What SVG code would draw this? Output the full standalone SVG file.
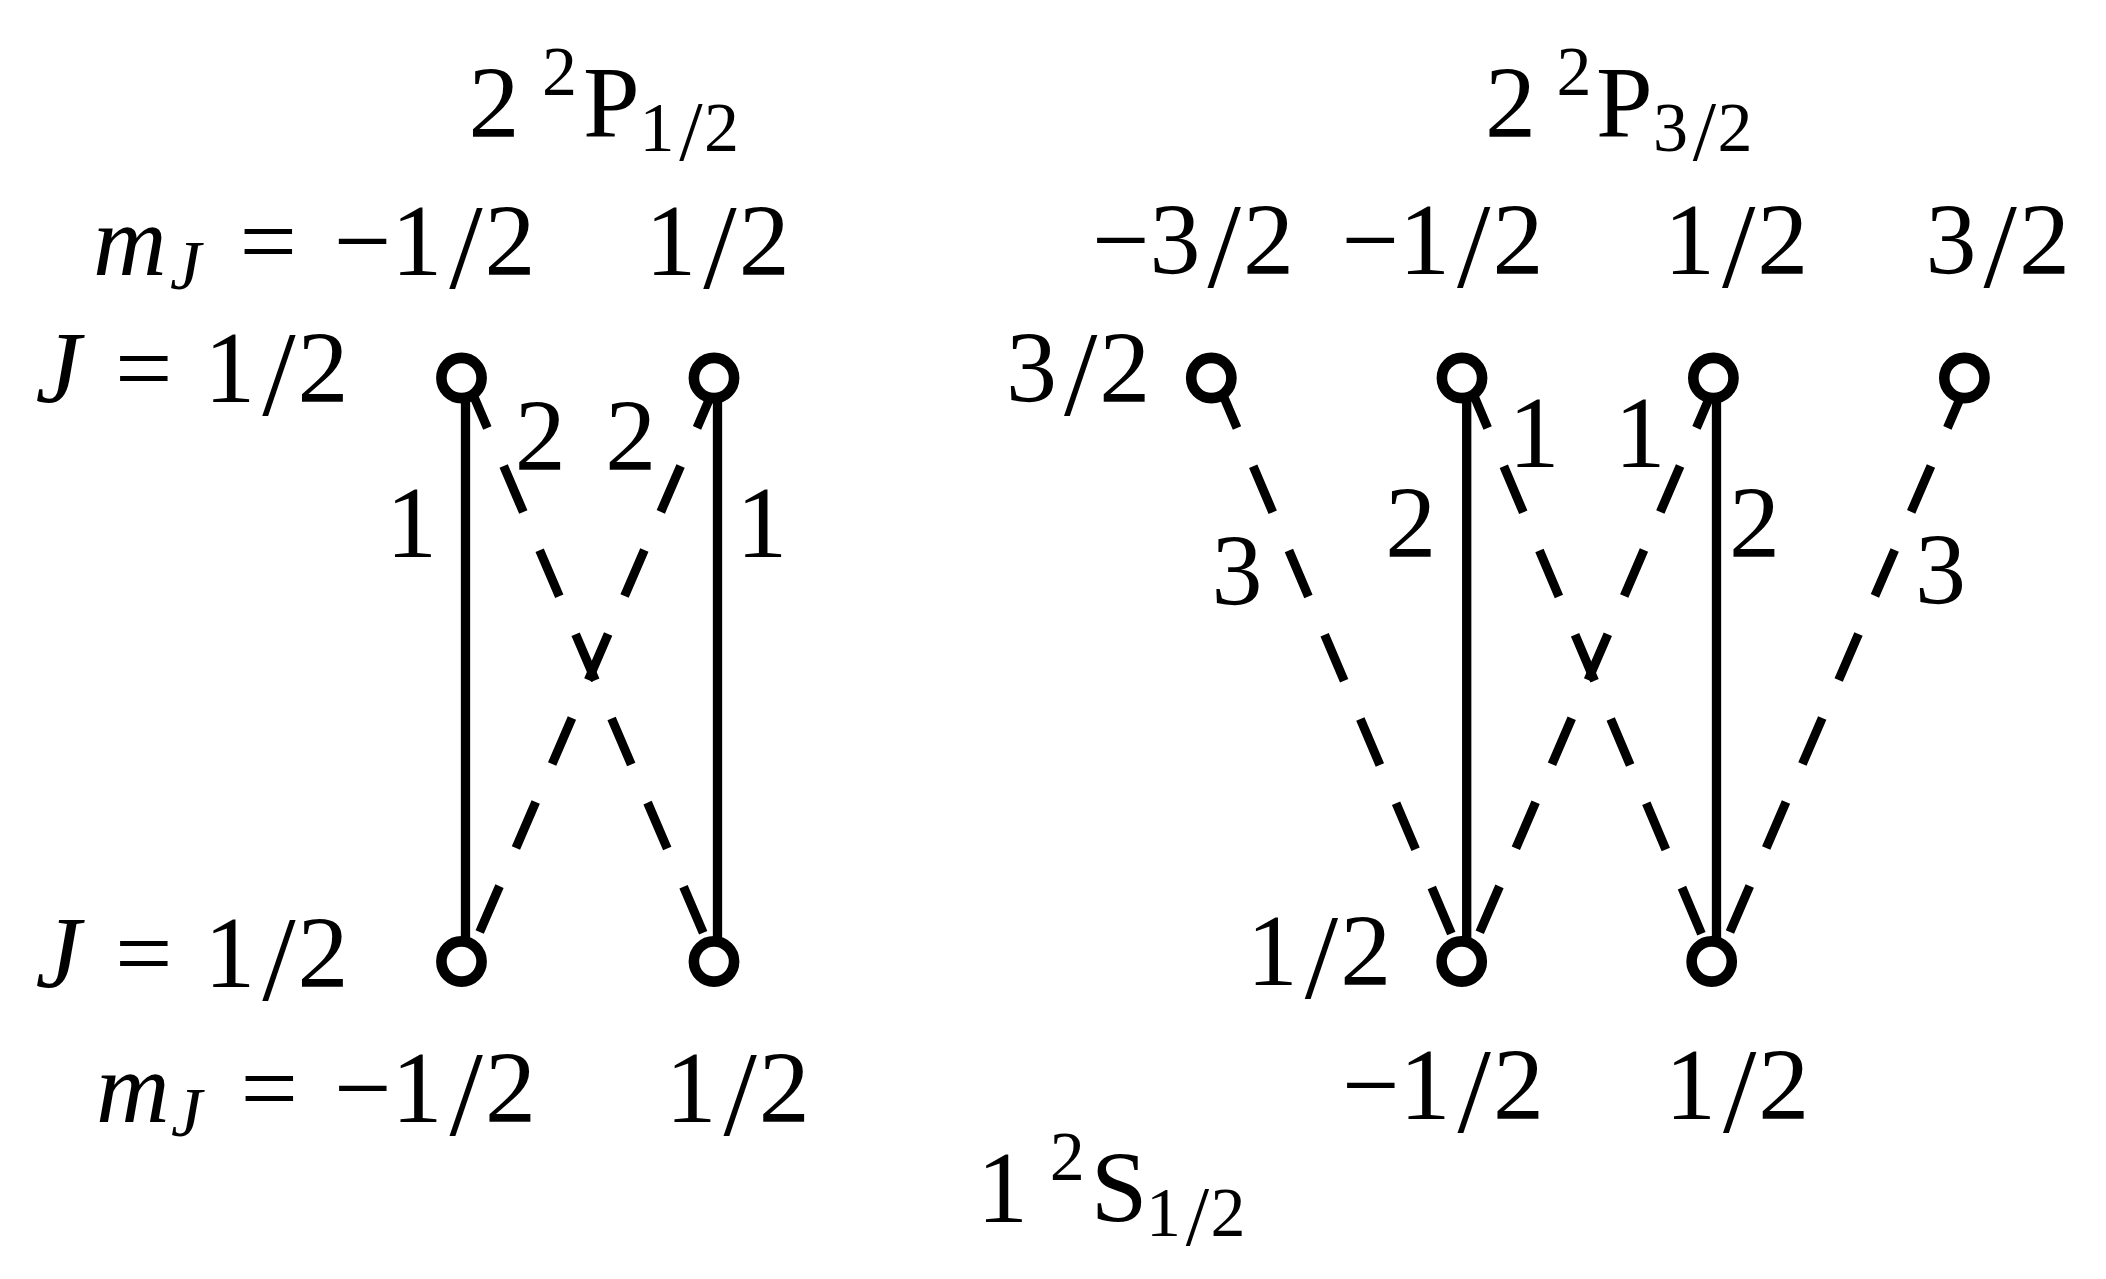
<svg xmlns="http://www.w3.org/2000/svg" width="2106" height="1279" viewBox="0 0 2106 1279">
<style>
.t{font-family:'Liberation Serif','Times New Roman',serif;font-size:102px;fill:#000}
.i{font-style:italic}
.s{font-size:70px}
.sl{font-size:120px}
.ssl{font-size:84px}
.solid{stroke:#000;stroke-width:9.3;fill:none}
.dash{stroke:#000;stroke-width:9;fill:none;stroke-dasharray:50 41.5;stroke-dashoffset:-4.3}
.node{fill:#fff;stroke:#000;stroke-width:10.6}
</style>
<rect width="2106" height="1279" fill="#fff"/>
<g id="connectors">
<line class="solid" x1="465.5" y1="378" x2="465.5" y2="961.5"/>
<line class="solid" x1="717.5" y1="378" x2="717.5" y2="961.5"/>
<line class="dash" x1="466" y1="378" x2="715.5" y2="961.5"/>
<line class="dash" x1="718.5" y1="378" x2="467" y2="961.5"/>
<line class="solid" x1="1466.7" y1="378" x2="1466.7" y2="961.5"/>
<line class="solid" x1="1716.5" y1="378" x2="1716.5" y2="961.5"/>
<line class="dash" x1="1215.8" y1="378" x2="1463.2" y2="961.5"/>
<line class="dash" x1="1466.5" y1="378" x2="1713.2" y2="961.5"/>
<line class="dash" x1="1717.9" y1="378" x2="1467.2" y2="961.5"/>
<line class="dash" x1="1968.9" y1="378" x2="1717.2" y2="961.5"/>
</g>
<g id="weights">
<text class="t" x="386" y="557">1</text>
<text class="t" x="736.2" y="557">1</text>
<text class="t" x="514.7" y="470">2</text>
<text class="t" x="605.3" y="470">2</text>
<text class="t" x="1211.6" y="605">3</text>
<text class="t" x="1385.3" y="557">2</text>
<text class="t" x="1508.5" y="467">1</text>
<text class="t" x="1614.6" y="467">1</text>
<text class="t" x="1729" y="557">2</text>
<text class="t" x="1915" y="604">3</text>
</g>
<g id="p12-mneg">
<circle class="node" cx="461.5" cy="378" r="20.1"/>
</g>
<g id="p12-mpos">
<circle class="node" cx="714" cy="378" r="20.1"/>
</g>
<g id="s12-left-mneg">
<circle class="node" cx="461.5" cy="961.5" r="20.1"/>
</g>
<g id="s12-left-mpos">
<circle class="node" cx="714" cy="961.5" r="20.1"/>
</g>
<g id="p32-m-3">
<circle class="node" cx="1211.3" cy="378" r="20.1"/>
</g>
<g id="p32-m-1">
<circle class="node" cx="1462" cy="378" r="20.1"/>
</g>
<g id="p32-m1">
<circle class="node" cx="1713.4" cy="378" r="20.1"/>
</g>
<g id="p32-m3">
<circle class="node" cx="1964.4" cy="378" r="20.1"/>
</g>
<g id="s12-right-mneg">
<circle class="node" cx="1461.7" cy="961.5" r="20.1"/>
</g>
<g id="s12-right-mpos">
<circle class="node" cx="1711.7" cy="961.5" r="20.1"/>
</g>
<g id="labels-left">
<text class="t" x="468.4" y="137">2</text>
<text class="t s" x="542" y="95">2</text>
<text class="t" x="583" y="137">P</text>
<text class="t s" x="639.5" y="151">1<tspan class="ssl" dx="4.8" dy="9">/</tspan><tspan dx="1.4" dy="-9">2</tspan></text>
<text class="t i" x="93" y="275">m</text>
<text class="t i s" x="170" y="289">J</text>
<text class="t" x="239.4" y="275">=</text>
<text class="t" x="333.7" y="275">−1<tspan class="sl" dx="7" dy="13">/</tspan><tspan dx="2" dy="-13">2</tspan></text>
<text class="t" x="645.3" y="275">1<tspan class="sl" dx="7" dy="13">/</tspan><tspan dx="2" dy="-13">2</tspan></text>
<text class="t i" x="35.5" y="402">J</text>
<text class="t" x="115" y="402">=</text>
<text class="t" x="204.2" y="402">1<tspan class="sl" dx="7" dy="13">/</tspan><tspan dx="2" dy="-13">2</tspan></text>
<text class="t i" x="35.5" y="987">J</text>
<text class="t" x="115" y="987">=</text>
<text class="t" x="204.2" y="987">1<tspan class="sl" dx="7" dy="13">/</tspan><tspan dx="2" dy="-13">2</tspan></text>
<text class="t i" x="96" y="1122">m</text>
<text class="t i s" x="171" y="1136">J</text>
<text class="t" x="240.5" y="1122">=</text>
<text class="t" x="334" y="1122">−1<tspan class="sl" dx="7" dy="13">/</tspan><tspan dx="2" dy="-13">2</tspan></text>
<text class="t" x="665.5" y="1122">1<tspan class="sl" dx="7" dy="13">/</tspan><tspan dx="2" dy="-13">2</tspan></text>
</g>
<g id="labels-right">
<text class="t" x="1485" y="137">2</text>
<text class="t s" x="1556.6" y="95">2</text>
<text class="t" x="1596" y="137">P</text>
<text class="t s" x="1653" y="151">3<tspan class="ssl" dx="4.8" dy="9">/</tspan><tspan dx="1.4" dy="-9">2</tspan></text>
<text class="t" x="1092" y="274">−3<tspan class="sl" dx="7" dy="13">/</tspan><tspan dx="2" dy="-13">2</tspan></text>
<text class="t" x="1341.5" y="274">−1<tspan class="sl" dx="7" dy="13">/</tspan><tspan dx="2" dy="-13">2</tspan></text>
<text class="t" x="1664" y="274">1<tspan class="sl" dx="7" dy="13">/</tspan><tspan dx="2" dy="-13">2</tspan></text>
<text class="t" x="1925.6" y="274">3<tspan class="sl" dx="7" dy="13">/</tspan><tspan dx="2" dy="-13">2</tspan></text>
<text class="t" x="1006" y="402">3<tspan class="sl" dx="7" dy="13">/</tspan><tspan dx="2" dy="-13">2</tspan></text>
<text class="t" x="1246.8" y="985">1<tspan class="sl" dx="7" dy="13">/</tspan><tspan dx="2" dy="-13">2</tspan></text>
<text class="t" x="1342" y="1119">−1<tspan class="sl" dx="7" dy="13">/</tspan><tspan dx="2" dy="-13">2</tspan></text>
<text class="t" x="1665" y="1119">1<tspan class="sl" dx="7" dy="13">/</tspan><tspan dx="2" dy="-13">2</tspan></text>
<text class="t" x="977" y="1222">1</text>
<text class="t s" x="1049.7" y="1180">2</text>
<text class="t" x="1090.7" y="1222">S</text>
<text class="t s" x="1146" y="1236">1<tspan class="ssl" dx="4.8" dy="9">/</tspan><tspan dx="1.4" dy="-9">2</tspan></text>
</g>
</svg>
